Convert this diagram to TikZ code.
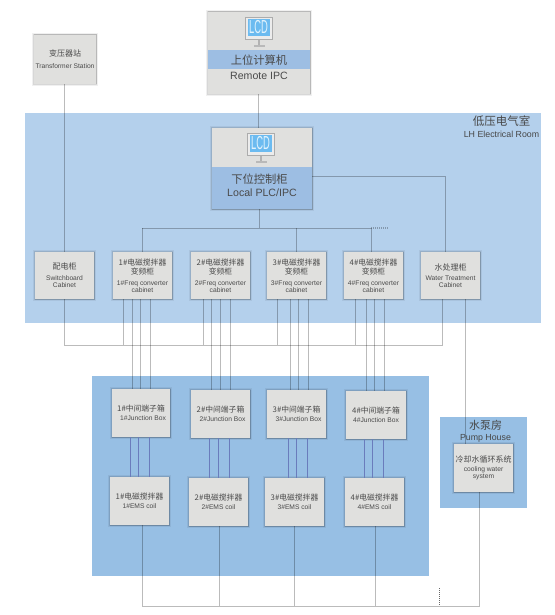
\documentclass[tikz,border=0pt]{standalone}
\usepackage{fontspec}
\setmainfont{Liberation Sans}
\newfontfamily\cjk{Noto Sans CJK SC}
\usetikzlibrary{calc}
\definecolor{roomblue}{HTML}{B4D0EC}
\definecolor{emsblue}{HTML}{97BFE4}
\definecolor{boxgrey}{HTML}{E0E0DE}
\definecolor{bandblue}{HTML}{9DBEE3}
\definecolor{wire}{HTML}{BBBBBB}
\definecolor{wireblue}{HTML}{6A7CBC}
\definecolor{txt}{HTML}{4A4A4A}
\definecolor{lcdblue}{HTML}{6CBBF0}
\definecolor{lcdtext}{HTML}{E2F3FD}
\newcommand{\zh}[2]{{\cjk\fontsize{#1}{#1}\selectfont #2}}
\newcommand{\en}[2]{{\fontsize{#1}{#1}\selectfont #2}}
\newcommand{\Z}[1]{\zh{7.8}{#1}}
\newcommand{\E}[1]{\en{6.7}{#1}}
\newcommand{\tightlines}{\lineskiplimit=-20pt\relax}
\newcommand{\lcdicon}[3]{%
  \fill[gray!60] (#2-1,#3+22) rectangle (#2+1,#3+29);
  \fill[gray!55] (#2-5,#3+28) rectangle (#2+6,#3+30);
  \node[minimum width=27pt,minimum height=22pt,fill=white!85!gray,draw=gray!65,line width=.8pt,inner sep=0pt] (#1) at (#2,#3+11) {};
  \node[minimum width=22pt,minimum height=17pt,fill=lcdblue,inner sep=0pt,text=lcdtext,font=\fontsize{13}{13}\selectfont] at (#2,#3+10.5) {\scalebox{.72}[1.45]{LCD}};
}
\tikzset{
  x=1pt,y=-1pt,
  unit/.style={fill=boxgrey,inner sep=0pt,minimum width=59pt,minimum height=47pt,align=center,text=txt,
    font=\fontsize{7}{7}\selectfont\tightlines,
    preaction={draw=black,opacity=.06,line width=4pt},
    preaction={draw=black,opacity=.10,line width=2.4pt},
    preaction={draw=black,opacity=.14,line width=1pt}},
  link/.style={draw=wire,line width=1pt,blend mode=multiply},
  blink/.style={draw=wireblue,line width=1pt},
  zone/.style={inner sep=0pt},
}
\newcommand{\boxat}[6]{\node[unit,minimum width=#4pt,minimum height=#5pt] (#1) at (#2,#3) {#6};}
\begin{document}
\begin{tikzpicture}
\useasboundingbox (0,0) rectangle (554,615);
\fill[white] (0,0) rectangle (554,615);
% zones
\node[zone,fill=roomblue,minimum width=516pt,minimum height=209.5pt] (room) at (283,217.75) {};
\node[zone,fill=emsblue,minimum width=337pt,minimum height=200pt] (emszone) at (260.5,476) {};
\node[zone,fill=emsblue,minimum width=87pt,minimum height=91pt] (pumpzone) at (483.5,462.5) {};
\node[font=\fontsize{8.8}{12}\selectfont\tightlines,text=black!72,align=center,inner sep=0pt] (roomlabel) at (501.5,127) {\zh{11.5}{低压电气室}\\LH Electrical Room};
\node[font=\fontsize{8.8}{11}\selectfont\tightlines,text=black!72,align=center,inner sep=0pt] (pumplabel) at (485.5,431.5) {\zh{11}{水泵房}\\Pump House};

\coordinate (busa) at (142,228);
\coordinate (busend) at (371,228);
\coordinate (busdot) at (388,228);

% units
\node[unit,minimum width=102pt,minimum height=82pt] (ipc) at (259,53) {};
\fill[bandblue] (ipc.west |- 0,50) rectangle (ipc.east |- 0,69);
\node[text=txt,inner sep=0pt] (ipczh) at (259,60) {\zh{11.3}{上位计算机}};
\node[text=txt,inner sep=0pt] (ipcen) at (259,75.5) {\en{10.6}{Remote IPC}};
\lcdicon{lcda}{258.5}{17}

\node[unit,minimum width=100pt,minimum height=81pt] (plc) at (262,168.5) {};
\fill[bandblue] (plc.west |- 0,167) rectangle (plc.south east);
\node[text=txt,inner sep=0pt] (plczh) at (259.5,179) {\zh{11.3}{下位控制柜}};
\node[text=txt,inner sep=0pt] (plcen) at (262,193) {\en{10.6}{Local PLC/IPC}};
\lcdicon{lcdb}{260.5}{133}

\boxat{ts}{65}{59.5}{62}{49}{\zh{8}{变压器站}\\[5pt]\E{Transformer Station}}
\boxat{sw}{64.5}{275.5}{59}{47}{\zh{8}{配电柜}\\[4pt]\E{Switchboard}\\\E{Cabinet}}
\boxat{fa}{142.5}{275.5}{59}{47}{\Z{1\#电磁搅拌器}\\[2pt]\Z{变频柜}\\[4pt]\E{1\#Freq converter}\\\E{cabinet}}
\boxat{fb}{220.5}{275.5}{59}{47}{\Z{2\#电磁搅拌器}\\[2pt]\Z{变频柜}\\[4pt]\E{2\#Freq converter}\\\E{cabinet}}
\boxat{fc}{296.5}{275.5}{59}{47}{\Z{3\#电磁搅拌器}\\[2pt]\Z{变频柜}\\[4pt]\E{3\#Freq converter}\\\E{cabinet}}
\boxat{fd}{373.5}{275.5}{59}{47}{\Z{4\#电磁搅拌器}\\[2pt]\Z{变频柜}\\[4pt]\E{4\#Freq converter}\\\E{cabinet}}
\boxat{wt}{450.5}{275.5}{59}{47}{\zh{8}{水处理柜}\\[3pt]\E{Water Treatment}\\\E{Cabinet}}

\boxat{ja}{141}{413}{58}{48}{\Z{1\#中间端子箱}\\[2pt]\hspace*{4pt}\E{1\#Junction Box}}
\boxat{jb}{220.5}{414}{59}{48}{\Z{2\#中间端子箱}\\[2pt]\hspace*{4pt}\E{2\#Junction Box}}
\boxat{jc}{296.5}{414}{59}{48}{\Z{3\#中间端子箱}\\[2pt]\hspace*{4pt}\E{3\#Junction Box}}
\boxat{jd}{376}{415}{60}{48}{\Z{4\#中间端子箱}\\[2pt]\E{4\#Junction Box}}

\boxat{ea}{139.5}{501}{59}{48}{\Z{1\#电磁搅拌器}\\[2pt]\E{1\#EMS coil}}
\boxat{eb}{218.5}{502}{59}{48}{\Z{2\#电磁搅拌器}\\[2pt]\E{2\#EMS coil}}
\boxat{ec}{294.5}{502}{59}{48}{\Z{3\#电磁搅拌器}\\[2pt]\E{3\#EMS coil}}
\boxat{ed}{374.5}{502}{59}{48}{\Z{4\#电磁搅拌器}\\[2pt]\E{4\#EMS coil}}

\boxat{cw}{483.5}{468}{59}{48}{\zh{8}{冷却水循环系统}\\[2pt]\E{cooling water}\\\E{system}}

% connectors
\draw[link] (ipc.south -| 258,0) -- (plc.north -| 258,0);
\draw[link] (ts.south -| 64,0) -- (sw.north -| 64,0);
\draw[link] (plc.south -| 259,0) -- (259,228);
\draw[link] (busa) -- (busend);
\draw[link,densely dotted,line width=1.1pt] (busend) -- (busdot);
\draw[link] (busa) -- (fa.north -| busa);
\draw[link] (fc.north -| 296,0) -- (296,228);
\draw[link] (busend) -- (fd.north -| busend);
\draw[link] (plc.east |- 0,176) -- (445,176) -- (wt.north -| 445,0);

\coordinate (pb) at (64,345);
\coordinate (pbe) at (442,345);
\draw[link] (sw.south -| 64,0) -- (pb) -- (pbe) -- (wt.south -| 442,0);
\foreach \n/\x in {fa/123,fb/203,fc/277,fd/355}
  \draw[link] (\n.south -| \x,0) -- (\x,345);
\foreach \f/\j/\xa/\xb/\xc in {fa/ja/132/140/150,fb/jb/211/220/230,fc/jc/290/298/308,fd/jd/366/374/384}
  \foreach \x in {\xa,\xb,\xc}
    \draw[link] (\f.south -| \x,0) -- (\j.north -| \x,0);
\foreach \j/\e/\xa/\xb/\xc in {ja/ea/130/138/149,jb/eb/209/218/229,jc/ec/288/296/307,jd/ed/364/372/383}
  \foreach \x in {\xa,\xb,\xc}
    \draw[blink] (\j.south -| \x,0) -- (\e.north -| \x,0);
\draw[link] (wt.south -| 465,0) -- (cw.north -| 465,0);
\coordinate (bb) at (142,606);
\coordinate (bbe) at (479,606);
\draw[link] (ea.south -| 142,0) -- (bb) -- (bbe) -- (cw.south -| 479,0);
\foreach \n/\x in {eb/219,ec/294,ed/375}
  \draw[link] (\n.south -| \x,0) -- (\x,606);
\coordinate (da) at (439,588);
\coordinate (db) at (439,606);
\draw[black!60,densely dotted,line width=1pt] (da) -- (db);
\end{tikzpicture}
\end{document}
